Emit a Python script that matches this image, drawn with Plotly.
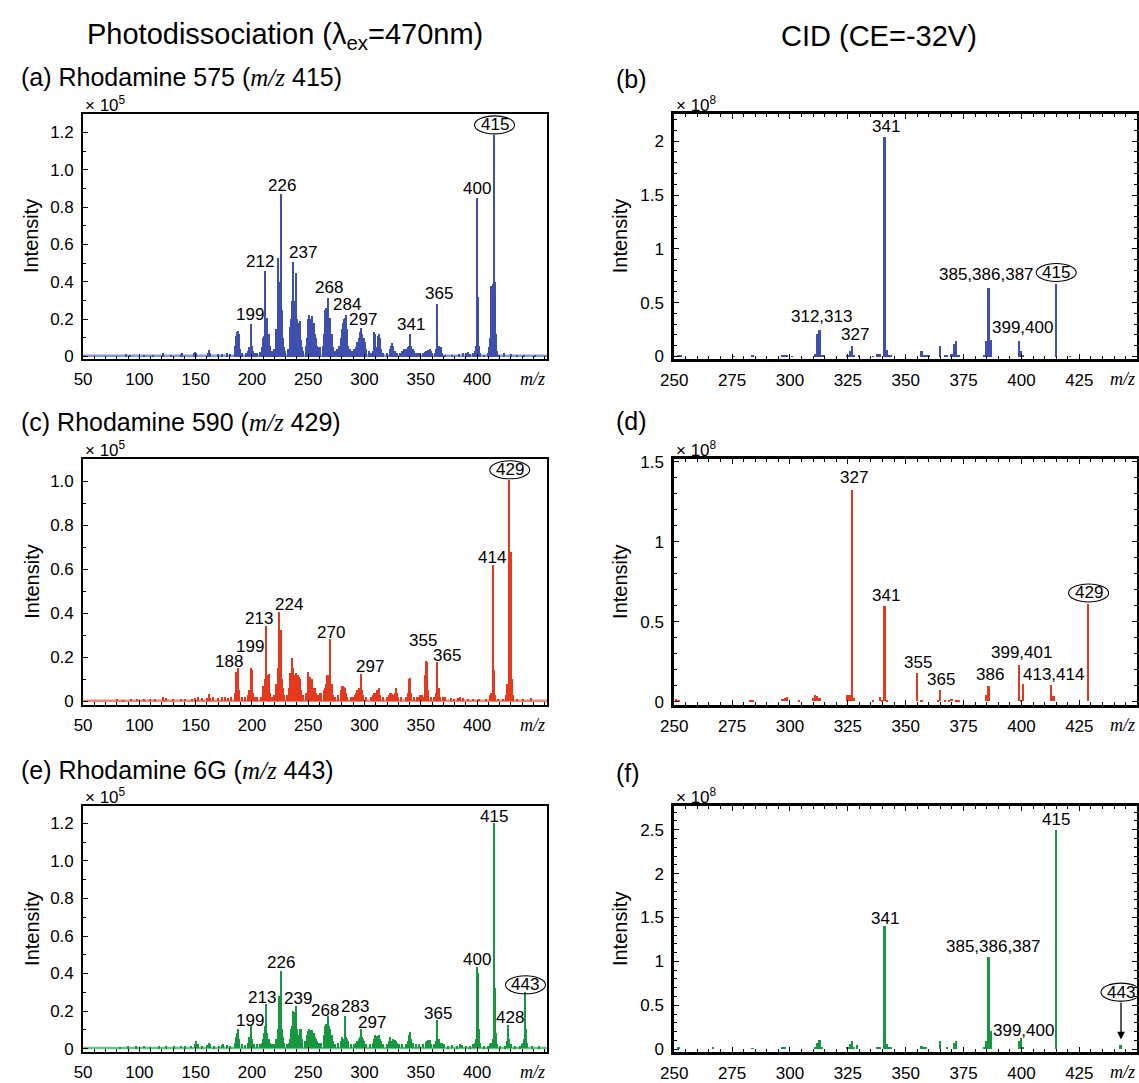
import plotly.graph_objects as go

W, H = 1139, 1083
SANS = "Liberation Sans, Arial, Helvetica, sans-serif"
SERIF = "Liberation Serif, Times New Roman, serif"

# ---------------------------------------------------------------
# Photodissociation spectra, (m/z, intensity in units of 1e5)
# ---------------------------------------------------------------
pd_rh575 = [
    (88, .015), (92, .01), (104, .008), (112, .01), (121, .02), (128, .01), (137, .015), (138, .02),
    (149, .02), (150, .025), (151, .02), (161, .02), (162, .035), (163, .02), (170, .015), (174, .012),
    (178, .02), (181, .015),
    (185, .06), (186, .11), (187, .13), (188, .14), (189, .12), (190, .04), (191, .02),
    (195, .02), (197, .03), (198, .05), (199, .176), (200, .06), (201, .03), (203, .02), (205, .02), (207, .025),
    (209, .05), (210, .10), (211, .11), (212, .46), (213, .20), (214, .21), (215, .12), (216, .06), (217, .03),
    (219, .03), (220, .04),
    (222, .15), (223, .527), (224, .30), (225, .40), (226, .87), (227, .25), (228, .10), (229, .05), (230, .03), (232, .04),
    (234, .16), (235, .20), (236, .30), (237, .506), (238, .30), (239, .45), (240, .20), (241, .10), (242, .18),
    (243, .19), (244, .09), (245, .05), (246, .03), (248, .06),
    (249, .10), (250, .20), (251, .225), (252, .16), (253, .20), (254, .216), (255, .18), (256, .12), (257, .10),
    (258, .06), (259, .04), (260, .05), (261, .05),
    (263, .06), (264, .12), (265, .25), (266, .26), (267, .20), (268, .316), (269, .20), (270, .21), (271, .12),
    (272, .05), (274, .03), (276, .04),
    (278, .06), (279, .10), (280, .15), (281, .18), (282, .20), (283, .21), (284, .225), (285, .15), (286, .06),
    (287, .04), (289, .03), (291, .04),
    (293, .05), (294, .08), (295, .10), (296, .13), (297, .155), (298, .12), (299, .10), (300, .10), (301, .08),
    (302, .04), (304, .03), (306, .02),
    (308, .03), (309, .135), (310, .12), (311, .05), (312, .11), (313, .12), (314, .10), (315, .04), (317, .02), (320, .02),
    (323, .04), (324, .06), (325, .075), (326, .06), (327, .03), (329, .02), (332, .02),
    (334, .03), (335, .04), (336, .04), (337, .04), (338, .04), (339, .05), (340, .06), (341, .12), (342, .06),
    (343, .04), (344, .03), (346, .02), (348, .02), (350, .02), (352, .02),
    (354, .025), (355, .03), (356, .03), (357, .035), (358, .04), (359, .03), (360, .02), (363, .02), (364, .04),
    (365, .283), (366, .06), (367, .03), (368, .05), (369, .02), (372, .01),
    (378, .01), (384, .015), (388, .02), (390, .02), (392, .025), (394, .015), (397, .02), (398, .03), (399, .06),
    (400, .849), (401, .32), (402, .06), (403, .02), (406, .01),
    (410, .02), (411, .05), (412, .10), (413, .38), (414, .39), (415, 1.19), (416, .40), (417, .12), (418, .03),
    (420, .01), (424, .02), (430, .015), (436, .01), (442, .01), (452, .01),
]

pd_rh590 = [
    (80, .01), (86, .008), (93, .01), (98, .012), (104, .01), (110, .012), (114, .01), (121, .02), (124, .015),
    (130, .01), (137, .012), (141, .01), (147, .012), (150, .015), (152, .02), (156, .015), (160, .015),
    (162, .035), (163, .015), (166, .02), (170, .015), (174, .02), (176, .02), (179, .015), (182, .02),
    (185, .04), (186, .134), (187, .08), (188, .149), (189, .05), (191, .02), (194, .02), (197, .03), (198, .05),
    (199, .149), (200, .14), (201, .04), (203, .02), (205, .02), (208, .02),
    (210, .07), (211, .07), (212, .10), (213, .342), (214, .12), (215, .125), (216, .04), (218, .02), (220, .03),
    (222, .08), (223, .15), (224, .406), (225, .20), (226, .324), (227, .10), (228, .06), (229, .03), (231, .03),
    (233, .06), (234, .13), (235, .13), (236, .198), (237, .15), (238, .12), (239, .13), (240, .09), (241, .12),
    (242, .11), (243, .10), (244, .05), (246, .03), (248, .04),
    (250, .135), (251, .09), (252, .11), (253, .10), (254, .10), (255, .06), (256, .06), (257, .04), (259, .03),
    (261, .04), (262, .04),
    (264, .05), (265, .06), (266, .08), (267, .12), (268, .12), (269, .10), (270, .282), (271, .08), (272, .03),
    (274, .02), (277, .03),
    (279, .05), (280, .07), (281, .071), (282, .065), (283, .06), (284, .04), (285, .02), (288, .02), (290, .02),
    (292, .03), (293, .04), (294, .05), (295, .06), (296, .06), (297, .123), (298, .05), (299, .03), (302, .02),
    (306, .02), (308, .03), (309, .04), (310, .04), (311, .05), (312, .045), (313, .06), (314, .03), (317, .02), (320, .02),
    (322, .03), (323, .04), (324, .04), (325, .035), (326, .03), (327, .04), (328, .06), (329, .04), (330, .02), (333, .02),
    (337, .02), (339, .04), (340, .10), (341, .105), (342, .04), (344, .02), (347, .02), (349, .02), (350, .03),
    (351, .03), (352, .02),
    (354, .12), (355, .183), (356, .18), (357, .05), (359, .02), (362, .02), (364, .04), (365, .178), (366, .06),
    (367, .02), (370, .02), (372, .02),
    (377, .015), (380, .01), (383, .015), (385, .02), (388, .015), (392, .01), (397, .01), (402, .01), (408, .01),
    (412, .03), (413, .04), (414, .618), (415, .14), (416, .03), (419, .01), (423, .01), (426, .03), (427, .08),
    (428, .08), (429, 1.003), (430, .677), (431, .10), (432, .03), (436, .01), (441, .01), (448, .015),
]

pd_rh6g = [
    (83, .008), (90, .01), (97, .01), (104, .012), (110, .008), (118, .01), (124, .01), (131, .01), (137, .012),
    (141, .01), (146, .012), (150, .02), (151, .04), (152, .02), (156, .01), (160, .015), (162, .03), (163, .02),
    (167, .01), (171, .012), (174, .015), (175, .02), (178, .015), (181, .01),
    (185, .03), (186, .06), (187, .08), (188, .10), (189, .05), (191, .02), (194, .015), (197, .03), (198, .06),
    (199, .117), (200, .05), (202, .02), (205, .02), (207, .02),
    (209, .03), (210, .05), (211, .08), (212, .12), (213, .236), (214, .08), (215, .05), (216, .03), (218, .02), (220, .02),
    (222, .05), (223, .10), (224, .28), (225, .15), (226, .41), (227, .10), (228, .06), (229, .03), (231, .02),
    (233, .03), (234, .05), (235, .10), (236, .12), (237, .20), (238, .19), (239, .227), (240, .10), (241, .06),
    (242, .07), (243, .10), (244, .10), (245, .05), (247, .04),
    (249, .07), (250, .09), (251, .10), (252, .095), (253, .09), (254, .096), (255, .08), (256, .06), (257, .05),
    (258, .04), (260, .03), (262, .03),
    (264, .07), (265, .12), (266, .13), (267, .12), (268, .17), (269, .12), (270, .10), (271, .07), (272, .04),
    (274, .02), (277, .03),
    (279, .04), (280, .06), (281, .05), (282, .05), (283, .171), (284, .06), (285, .05), (286, .04), (288, .02), (291, .02),
    (293, .03), (294, .04), (295, .05), (296, .06), (297, .10), (298, .06), (299, .05), (300, .04), (302, .02), (305, .02),
    (308, .03), (309, .05), (310, .07), (311, .065), (312, .06), (313, .07), (314, .05), (315, .04), (317, .02), (320, .02),
    (322, .04), (323, .06), (324, .04), (325, .03), (326, .05), (327, .045), (328, .04), (329, .03), (331, .02), (334, .02),
    (337, .02), (339, .04), (340, .07), (341, .087), (342, .05), (343, .03), (346, .02), (349, .02), (352, .02),
    (355, .035), (356, .04), (357, .045), (358, .045), (359, .02), (362, .02), (364, .04), (365, .148), (366, .05),
    (367, .03), (369, .03), (371, .02), (374, .01),
    (378, .015), (382, .01), (385, .02), (387, .015), (390, .01), (394, .01), (397, .02), (398, .03), (399, .05),
    (400, .431), (401, .40), (402, .10), (403, .03), (406, .01),
    (410, .01), (412, .02), (413, .03), (414, .05), (415, 1.20), (416, .32), (417, .08), (418, .02), (421, .01),
    (425, .01), (427, .04), (428, .122), (429, .05), (430, .02), (434, .01), (438, .01), (440, .02), (441, .03),
    (442, .05), (443, .297), (444, .10), (445, .03), (449, .01), (455, .01),
]

# ---------------------------------------------------------------
# CID spectra, (m/z, intensity in units of 1e8)
# ---------------------------------------------------------------
cid_rh575 = [
    (252, .015), (253, .01), (276, .005), (284, .01), (297, .01), (298, .012), (299, .01), (301, .005),
    (311, .03), (312, .207), (313, .253), (314, .01), (315, .008), (325, .01), (326, .05), (327, .10), (328, .02),
    (330, .01), (336, .005), (338, .03), (339, .03), (341, 2.04), (342, .06), (343, .01), (344, .01),
    (357, .055), (358, .015), (359, .01), (360, .01), (365, .10), (367, .015), (368, .02), (370, .03),
    (371, .116), (372, .143), (373, .01), (384, .02), (385, .146), (386, .643), (387, .152),
    (399, .146), (400, .055), (401, .01), (415, .68), (421, .005),
]

cid_rh590 = [
    (251, .016), (252, .01), (283, .008), (284, .008), (297, .015), (298, .022), (299, .03), (304, .005),
    (310, .02), (311, .04), (312, .037), (313, .02), (325, .04), (326, .04), (327, 1.326), (328, .02),
    (336, .005), (339, .03), (340, .01), (341, .598), (342, .01), (355, .177), (357, .012), (364, .005),
    (365, .074), (367, .008), (369, .01), (370, .015), (372, .008), (373, .008), (385, .04), (386, .094),
    (399, .226), (400, .008), (401, .109), (413, .105), (414, .037), (429, .612),
]

cid_rh6g = [
    (252, .02), (267, .02), (284, .005), (297, .008), (298, .008), (311, .02), (312, .064), (313, .10), (314, .01),
    (325, .01), (326, .056), (327, .082), (328, .01), (329, .04), (338, .019), (339, .01), (341, 1.394),
    (342, .056), (343, .01), (344, .01), (357, .03), (358, .015), (359, .01), (365, .086), (368, .01),
    (371, .064), (372, .086), (384, .02), (385, .093), (386, 1.043), (387, .205), (399, .086), (400, .12),
    (401, .01), (415, 2.49), (443, .045),
]

# Peak labels: (text, peak m/z, offset in m/z, label height, boxed)
labels_a = [("199", 199, -1, .225, False), ("212", 212, -4.5, .51, False), ("226", 226, 0.5, .914, False),
            ("237", 237, 8, .555, False), ("268", 268, 0.8, .37, False), ("284", 284, 0.5, .28, False),
            ("297", 297, 1.5, .198, False), ("341", 341, 0.6, .172, False), ("365", 365, 1, .336, False),
            ("400", 400, 0, .898, False), ("415", 415, 0.5, 1.24, True)]
labels_b = [("341", 341, 0.3, 2.14, False), ("312,313", 313, 0.5, .375, False), ("327", 327, 1, .207, False),
            ("385,386,387", 386, -1.2, .76, False), ("399,400", 399, 1.5, .268, False),
            ("415", 415, 0, .78, True)]
labels_c = [("188", 188, -8, .183, False), ("199", 199, -1, .25, False), ("213", 213, -7, .376, False),
            ("224", 224, 9, .44, False), ("270", 270, 0, .312, False), ("297", 297, 8, .16, False),
            ("355", 355, -3, .276, False), ("365", 365, 8, .208, False), ("414", 414, -1, .655, False),
            ("429", 429, 0, 1.052, True)]
labels_d = [("327", 327, 0.7, 1.40, False), ("341", 341, 0.3, .663, False), ("355", 355, 0.4, .246, False),
            ("365", 365, 0.3, .14, False), ("386", 386, 0.4, .17, False), ("399,401", 399, 1, .308, False),
            ("413,414", 413, 1, .17, False), ("429", 429, 0, .68, True)]
labels_e = [("199", 199, -1, .152, False), ("213", 213, -4, .27, False), ("226", 226, 0, .459, False),
            ("239", 239, 2, .267, False), ("268", 268, -3.5, .204, False), ("283", 283, 8.5, .222, False),
            ("297", 297, 9.5, .14, False), ("365", 365, 0.5, .189, False), ("400", 400, 0, .477, False),
            ("415", 415, 0, 1.235, False), ("428", 428, 1.5, .166, False), ("443", 443, 0, .34, True)]
labels_f = [("341", 341, 0, 1.49, False), ("385,386,387", 386, 2, 1.17, False), ("399,400", 399, 2, .21, False),
            ("415", 415, 0, 2.62, False), ("443", 443, 0, .65, True)]

BLUE, RED, GREEN = "#3e4fae", "#e5381c", "#17973f"
BLUE_BASE, RED_BASE, GREEN_BASE = "#8a97d6", "#f08a78", "#6cc08a"

# pixel frame of each panel column / row
COL_PD = (70, 540)
COL_CID = (669, 1137.5)
ROWS = [(109.3, 358.3), (460.0, 709.3), (812.5, 1061.5)]

MZ_TAG = "<span style=\"font-family:Liberation Serif\"><i>m/z</i></span>"

panels = [
    dict(tag="(a) Rhodamine 575 (" + MZ_TAG + " 415)",
         data=pd_rh575, kind="pd", row=0, color=BLUE, base=BLUE_BASE, yr=[-0.014, 1.30],
         yt=[0, .2, .4, .6, .8, 1.0, 1.2], ytt=["0", "0.2", "0.4", "0.6", "0.8", "1.0", "1.2"],
         exp="5", labels=labels_a, tag_y=72),
    dict(tag="(b)", data=cid_rh575, kind="cid", row=0, color=BLUE, yr=[-0.024, 2.256],
         yt=[0, .5, 1, 1.5, 2], ytt=["0", "0.5", "1", "1.5", "2"], exp="8", labels=labels_b, tag_y=74),
    dict(tag="(c) Rhodamine 590 (" + MZ_TAG + " 429)",
         data=pd_rh590, kind="pd", row=1, color=RED, base=RED_BASE, yr=[-0.015, 1.10],
         yt=[0, .2, .4, .6, .8, 1.0], ytt=["0", "0.2", "0.4", "0.6", "0.8", "1.0"],
         exp="5", labels=labels_c, tag_y=422),
    dict(tag="(d)", data=cid_rh590, kind="cid", row=1, color=RED, yr=[-0.02, 1.517],
         yt=[0, .5, 1, 1.5], ytt=["0", "0.5", "1", "1.5"], exp="8", labels=labels_d, tag_y=421),
    dict(tag="(e) Rhodamine 6G (" + MZ_TAG + " 443)",
         data=pd_rh6g, kind="pd", row=2, color=GREEN, base=GREEN_BASE, yr=[-0.017, 1.29],
         yt=[0, .2, .4, .6, .8, 1.0, 1.2], ytt=["0", "0.2", "0.4", "0.6", "0.8", "1.0", "1.2"],
         exp="5", labels=labels_e, tag_y=775),
    dict(tag="(f)", data=cid_rh6g, kind="cid", row=2, color=GREEN, yr=[-0.03, 2.765],
         yt=[0, .5, 1, 1.5, 2, 2.5], ytt=["0", "0.5", "1", "1.5", "2", "2.5"], exp="8", labels=labels_f, tag_y=778),
]

fig = go.Figure()
layout = dict(width=W, height=H, margin=dict(l=0, r=0, t=0, b=0), autosize=False,
              paper_bgcolor="white", plot_bgcolor="white", showlegend=False,
              font=dict(family=SANS, size=17, color="black"), bargap=0)
annotations, shapes = [], []


def px_x(v):
    return v / W


def px_y(v):
    return 1 - v / H


for i, p in enumerate(panels, start=1):
    sx = "" if i == 1 else str(i)
    xa, ya = "x" + sx, "y" + sx
    pd_panel = p["kind"] == "pd"
    left, right = COL_PD if pd_panel else COL_CID
    top, bottom = ROWS[p["row"]]

    mz = [m for m, _ in p["data"]]
    inten = [v for _, v in p["data"]]
    fig.add_trace(go.Bar(x=mz, y=inten, width=1.3 if pd_panel else 0.75,
                         marker=dict(color=p["color"], line=dict(width=0)),
                         xaxis=xa, yaxis=ya, hoverinfo="x+y"))

    lw = 1.8 if pd_panel else 2.8
    xaxis = dict(domain=[px_x(left), px_x(right)], anchor=ya,
                 range=[50, 462] if pd_panel else [250, 449.7],
                 tickvals=list(range(50, 401, 50)) if pd_panel else list(range(250, 426, 25)),
                 ticks="inside", ticklen=5, tickwidth=1.2, tickcolor="black",
                 minor=dict(dtick=10 if pd_panel else 5, tick0=50 if pd_panel else 250,
                            ticks="inside", ticklen=3, tickwidth=1, tickcolor="black"),
                 showline=True, linecolor="black", linewidth=lw,
                 mirror=True if pd_panel else "ticks",
                 showgrid=False, zeroline=False, ticklabelstandoff=4,
                 tickfont=dict(size=17))
    yaxis = dict(domain=[px_y(bottom), px_y(top)], anchor=xa, range=p["yr"],
                 tickvals=p["yt"], ticktext=p["ytt"],
                 ticks="inside", ticklen=5, tickwidth=1.2, tickcolor="black",
                 minor=dict(dtick=0.1, tick0=0, ticks="inside", ticklen=3, tickwidth=1, tickcolor="black"),
                 showline=True, linecolor="black", linewidth=lw,
                 mirror=True if pd_panel else "ticks",
                 showgrid=False, zeroline=False, ticklabelstandoff=4,
                 tickfont=dict(size=17))
    layout["xaxis" + sx] = xaxis
    layout["yaxis" + sx] = yaxis

    # detector baseline of the photodissociation traces
    if pd_panel:
        shapes.append(dict(type="line", xref=xa + " domain", yref=ya, x0=0, x1=1, y0=0.004, y1=0.004,
                           line=dict(color=p["base"], width=2.5), layer="below"))

    # exponent above the y axis
    annotations.append(dict(xref=xa + " domain", yref=ya + " domain", x=0, y=1, xanchor="left",
                            yanchor="bottom", showarrow=False, yshift=-3,
                            text="× 10<sup>" + p["exp"] + "</sup>",
                            font=dict(size=17)))
    # m/z axis caption
    annotations.append(dict(xref=xa + " domain", yref=ya + " domain", x=1, y=0, xanchor="right",
                            yanchor="top", showarrow=False, yshift=-8,
                            text="<i>m/z</i>", font=dict(family=SERIF, size=18)))
    # Intensity title
    annotations.append(dict(xref="paper", yref="paper", x=px_x(18 if pd_panel else 614),
                            y=px_y((top + bottom) / 2), xanchor="center", yanchor="middle",
                            textangle=-90, showarrow=False, text="Intensity", font=dict(size=20)))
    # panel tag
    annotations.append(dict(xref="paper", yref="paper", x=px_x(5 if pd_panel else 608),
                            y=px_y(p["tag_y"]), xanchor="left", yanchor="middle", showarrow=False,
                            text=p["tag"], font=dict(size=25)))
    # peak labels
    for text, peak, dx, ly, boxed in p["labels"]:
        annotations.append(dict(xref=xa, yref=ya, x=peak + dx, y=ly, xanchor="center", yanchor="middle",
                                showarrow=False, text=text, font=dict(size=17)))
        if boxed:
            shapes.append(dict(type="circle", xref=xa, yref=ya, xsizemode="pixel", ysizemode="pixel",
                               xanchor=peak + dx, yanchor=ly, x0=-20, x1=20, y0=-9, y1=9,
                               line=dict(color="black", width=1.1)))

# arrow pointing to the weak precursor peak in (f)
annotations.append(dict(xref="x6", yref="y6", axref="x6", ayref="y6", x=443, y=0.11, ax=443, ay=0.55,
                        showarrow=True, arrowhead=2, arrowsize=1.2, arrowwidth=1.3, arrowcolor="black", text=""))

# column headers
annotations.append(dict(xref="paper", yref="paper", x=px_x(275), y=px_y(30), xanchor="center",
                        yanchor="middle", showarrow=False, font=dict(size=29),
                        text="Photodissociation (λ<sub>ex</sub>=470nm)"))
annotations.append(dict(xref="paper", yref="paper", x=px_x(877), y=px_y(30), xanchor="center",
                        yanchor="middle", showarrow=False, font=dict(size=29), text="CID (CE=-32V)"))

layout["annotations"] = annotations
layout["shapes"] = shapes
fig.update_layout(**layout)
fig.write_html("out.html")
